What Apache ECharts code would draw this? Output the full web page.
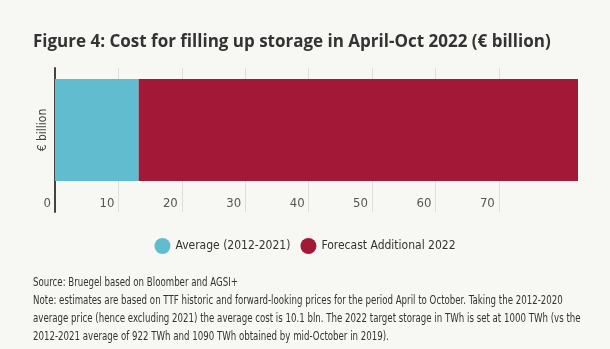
<!DOCTYPE html>
<html><head><meta charset="utf-8">
<script src="https://cdn.jsdelivr.net/npm/echarts@6/dist/echarts.min.js"></script>
<style>html,body{margin:0;padding:0;background:#f7f7f3}#c{width:610px;height:349px}</style>
</head><body><div id="c"></div>
<script>
const categories = ['Cost'];
const seriesNames = ['Average (2012-2021)', 'Forecast Additional 2022'];
const averageValues = [13.2];
const forecastValues = [69.3];
const tickValues = [0, 10, 20, 30, 40, 50, 60, 70];

const condensed = '"DejaVu Sans Condensed", sans-serif';
const footFont = '12px ' + condensed;
const sx = 0.80;
const chart = echarts.init(document.getElementById('c'), null, {renderer: 'canvas'});
chart.setOption({
  backgroundColor: '#f7f7f3',
  animation: false,
  title: {
    text: 'Figure 4: Cost for filling up storage in April-Oct 2022 (€ billion)',
    left: 33, top: 34, padding: 0,
    textStyle: {fontFamily: '"Open Sans", sans-serif', fontWeight: 'bold', fontSize: 17, color: '#333'}
  },
  legend: {
    data: seriesNames,
    left: 'center', top: 233,
    icon: 'circle', itemWidth: 16, itemHeight: 16, itemGap: 10, itemTextGap: 9,
    textStyle: {fontFamily: condensed, fontSize: 12, color: '#333'}
  },
  grid: {left: 55, right: 32, top: 68, bottom: 137, containLabel: false},
  xAxis: {
    type: 'value', min: 0, max: 82.5,
    axisLine: {show: false}, axisTick: {show: false, customValues: tickValues},
    axisLabel: {inside: true, customValues: tickValues, margin: 2, align: 'right', padding: [0, 4, 0, 0],
      fontFamily: condensed, fontSize: 13, color: '#555'},
    splitLine: {show: true, lineStyle: {color: '#ddd', width: 1}}
  },
  yAxis: {
    type: 'category', data: categories,
    axisLine: {show: true, lineStyle: {color: '#444', width: 2}},
    axisTick: {show: false}, axisLabel: {show: false}
  },
  series: [
    {name: seriesNames[0], type: 'bar', stack: 'total', data: averageValues, barWidth: 102, barGap: 0,
      itemStyle: {color: '#62bccf'}},
    {name: seriesNames[1], type: 'bar', stack: 'total', data: forecastValues, barWidth: 102, barGap: 0,
      itemStyle: {color: '#a31737'}},
    {name: 'spacer', type: 'bar', stack: 'spacer', data: ['-'], barWidth: 20, barGap: 0, silent: true,
      itemStyle: {color: 'transparent'}}
  ],
  graphic: [
    {type: 'text', x: 43, y: 130, rotation: Math.PI / 2,
      style: {text: '€ billion', align: 'center', verticalAlign: 'middle', font: '12px ' + condensed, fill: '#444'}},
    {type: 'text', x: 33, y: 283, scaleX: sx,
      style: {text: 'Source: Bruegel based on Bloomber and AGSI+', verticalAlign: 'middle', font: footFont, fill: '#333'}},
    {type: 'text', x: 33, y: 301, scaleX: sx,
      style: {text: 'Note: estimates are based on TTF historic and forward-looking prices for the period April to October. Taking the 2012-2020', verticalAlign: 'middle', font: footFont, fill: '#333'}},
    {type: 'text', x: 33, y: 319, scaleX: sx,
      style: {text: 'average price (hence excluding 2021) the average cost is 10.1 bln. The 2022 target storage in TWh is set at 1000 TWh (vs the', verticalAlign: 'middle', font: footFont, fill: '#333'}},
    {type: 'text', x: 33, y: 337, scaleX: sx,
      style: {text: '2012-2021 average of 922 TWh and 1090 TWh obtained by mid-October in 2019).', verticalAlign: 'middle', font: footFont, fill: '#333'}}
  ]
});
</script></body></html>
